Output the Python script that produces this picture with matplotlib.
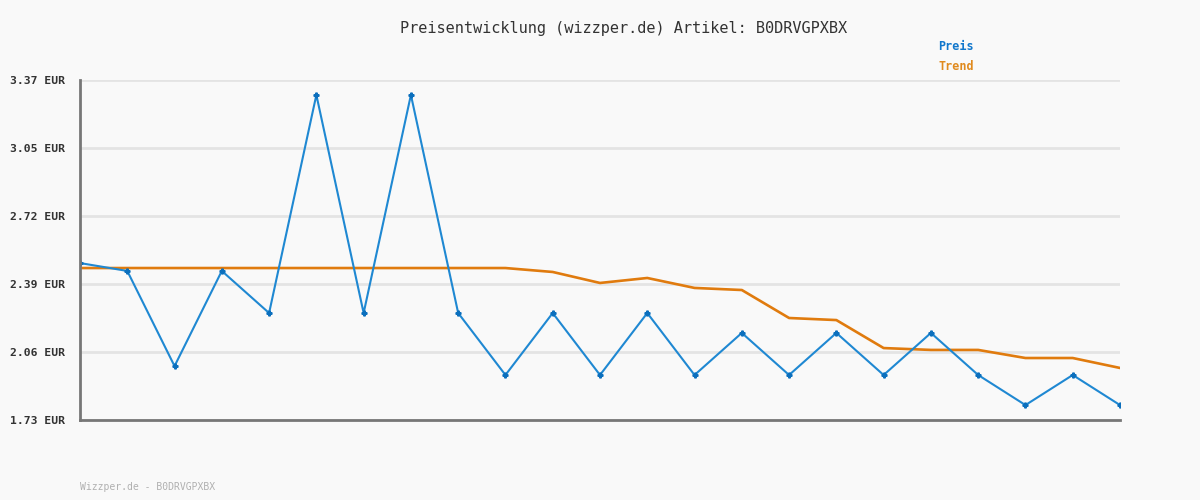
import numpy as np
from matplotlib import pyplot as plt

# price history
preis = [2.487, 2.449, 1.990, 2.449, 2.246, 3.298, 2.246, 3.298, 2.246, 1.947,
         2.246, 1.947, 2.246, 1.947, 2.150, 1.947, 2.150, 1.947, 2.150, 1.947,
         1.802, 1.947, 1.802]
trend = [2.463, 2.463, 2.463, 2.463, 2.463, 2.463, 2.463, 2.463, 2.463, 2.463,
         2.444, 2.391, 2.415, 2.367, 2.357, 2.222, 2.212, 2.077, 2.068, 2.068,
         2.029, 2.029, 1.981]
tick_labels = ['1.73 EUR', '2.06 EUR', '2.39 EUR', '2.72 EUR', '3.05 EUR', '3.37 EUR']
y_min, y_max = 1.73, 3.37

bg = '#f9f9f9'
blue = '#1f88d2'
orange = '#e07b0e'
mono = 'DejaVu Sans Mono'

fig = plt.figure(figsize=(12, 5), dpi=100, facecolor=bg)
ax = fig.add_axes([80 / 1200, 0.16, 1040 / 1200, 0.68], facecolor=bg)

x = np.arange(len(preis))
ax.plot(x, trend, color=orange, lw=1.9, zorder=3)
ax.plot(x, preis, color=blue, lw=1.5, marker='P', ms=3.5,
        mfc='#0b6fbd', mec='#0b6fbd', zorder=4)

ax.set_xlim(0, len(preis) - 1)
ax.set_ylim(y_min, y_max)
ticks = np.linspace(y_min, y_max, len(tick_labels))
ax.set_yticks(ticks)
ax.set_yticklabels(tick_labels, family=mono, fontsize=8.2, fontweight='bold',
                   color='#333333')
ax.set_xticks([])
ax.tick_params(axis='y', length=0, pad=11)
ax.grid(axis='y', color='#e4e4e4', lw=2)
ax.set_axisbelow(True)

for s in ['top', 'right']:
    ax.spines[s].set_visible(False)
for s in ['left', 'bottom']:
    ax.spines[s].set_color('#777777')
    ax.spines[s].set_linewidth(2)
ax.spines['left'].set_zorder(5)

fig.text(0.52, 1 - 28 / 500, 'Preisentwicklung (wizzper.de) Artikel: B0DRVGPXBX',
         family=mono, fontsize=11, color='#333333', ha='center', va='center')
fig.text(974 / 1200, 1 - 47 / 500, 'Preis', family=mono, fontsize=8.5,
         fontweight='bold', color='#1177cc', ha='right', va='center')
fig.text(974 / 1200, 1 - 67 / 500, 'Trend', family=mono, fontsize=8.5,
         fontweight='bold', color='#e08a1e', ha='right', va='center')
fig.text(80 / 1200, 1 - 487 / 500, 'Wizzper.de - B0DRVGPXBX', family=mono,
         fontsize=7, color='#b0b0b0', ha='left', va='center')

plt.savefig('out.png', dpi=100, facecolor=bg)
